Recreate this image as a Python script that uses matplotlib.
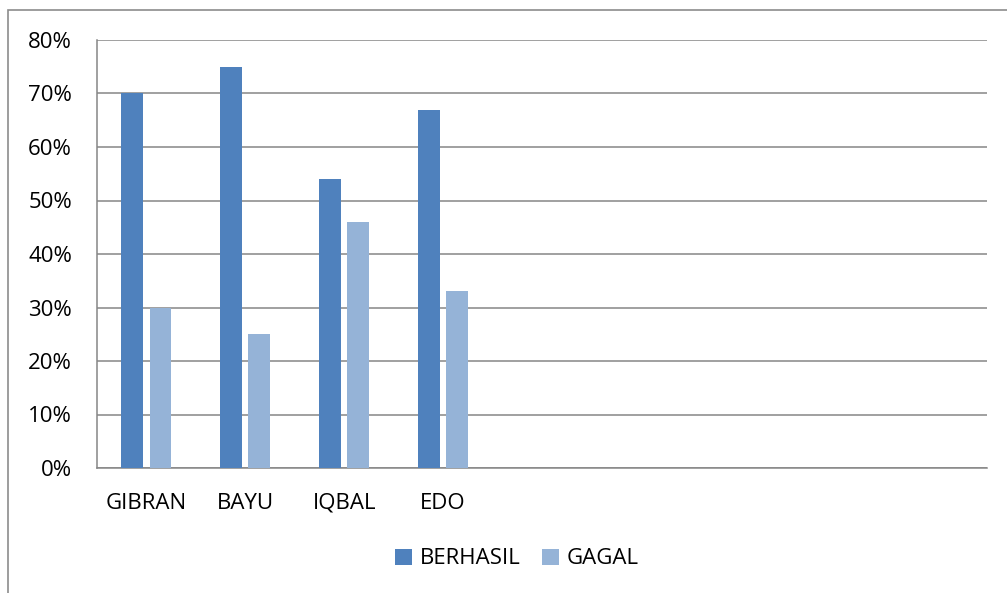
import numpy as np
import matplotlib.pyplot as plt
from matplotlib.patches import Rectangle
from matplotlib.ticker import PercentFormatter

# data
categories = ["GIBRAN", "BAYU", "IQBAL", "EDO"]
n_slots = 9  # chart keeps empty category slots on the right
berhasil = [70, 75, 54, 67]
gagal = [30, 25, 46, 33]
series_names = ["BERHASIL", "GAGAL"]
colors = ["#4F81BD", "#95B3D7"]
grid_color = "#868686"

plt.rcParams["font.family"] = ["Open Sans", "DejaVu Sans"]

W, H = 1007, 593
fig = plt.figure(figsize=(W / 100, H / 100), dpi=100)

# chart frame (only top and left edges visible in the reference)
fig.patches.append(Rectangle((8 / W, -0.2), 1.2, (H - 10) / H + 0.2,
                             transform=fig.transFigure, fill=False,
                             edgecolor="#8c8c8c", linewidth=1.2))

ax = fig.add_axes([97 / W, (H - 468) / H, 890 / W, 428 / H])

x = np.arange(len(categories))
bw = 0.222
off = 0.142
ax.bar(x - off, berhasil, width=bw, color=colors[0], label=series_names[0], zorder=3)
ax.bar(x + off, gagal, width=bw, color=colors[1], label=series_names[1], zorder=3)

ax.set_xlim(-0.5, n_slots - 0.5)
ax.set_ylim(0, 80)
ax.set_yticks(np.arange(0, 81, 10))
ax.yaxis.set_major_formatter(PercentFormatter(decimals=0))
ax.set_xticks(x)
ax.set_xticklabels(categories)
ax.tick_params(axis="both", length=0, labelsize=16, colors="black")
ax.tick_params(axis="x", pad=18)
ax.tick_params(axis="y", pad=18)

ax.grid(axis="y", color=grid_color, linewidth=1.1, zorder=0)
for s in ["top", "right"]:
    ax.spines[s].set_visible(False)
for s in ["left", "bottom"]:
    ax.spines[s].set_color(grid_color)
    ax.spines[s].set_linewidth(1.1)

fig.legend(loc="center", bbox_to_anchor=(517 / W, (H - 559) / H), ncol=2,
           frameon=False, fontsize=16, handlelength=0.75, handleheight=0.75,
           handletextpad=0.35, columnspacing=1.0)

fig.savefig("out.png", dpi=100)
